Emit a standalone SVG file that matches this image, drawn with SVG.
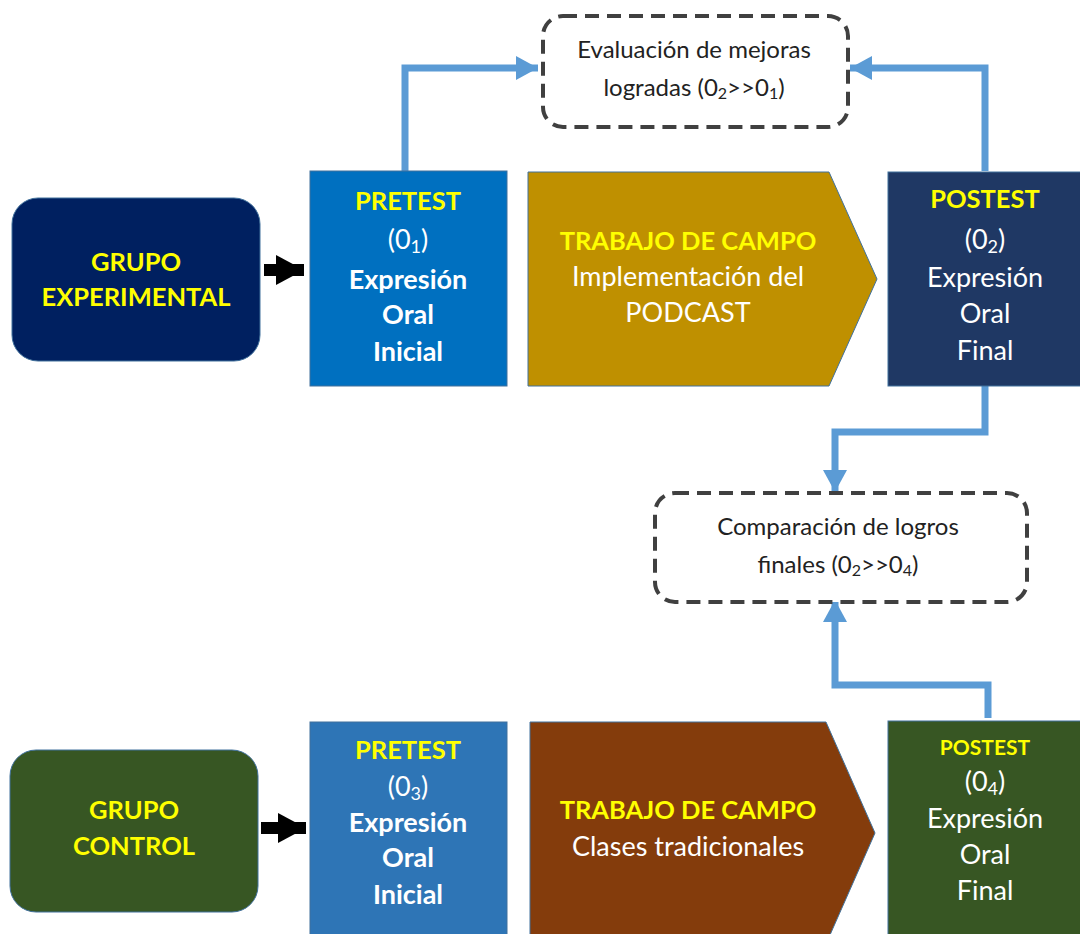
<svg xmlns="http://www.w3.org/2000/svg" width="1080" height="934" viewBox="0 0 1080 934">
<defs>
<marker id="blueHead" markerUnits="userSpaceOnUse" markerWidth="26" markerHeight="26" refX="22" refY="12" orient="auto" viewBox="0 0 26 24">
<path d="M0,0 L22,12 L0,24 Z" fill="#5B9BD5"/>
</marker>
<marker id="blackHead" markerUnits="userSpaceOnUse" markerWidth="30" markerHeight="32" refX="28" refY="15" orient="auto" viewBox="0 0 30 30">
<path d="M0,0 L28,15 L0,30 Z" fill="#000"/>
</marker>
</defs>
<style>
text{font-family:Lato,"Liberation Sans",sans-serif;text-anchor:middle}
.y{fill:#FFFF00;font-weight:bold;font-size:25.5px}
.wb{fill:#FFFFFF;font-weight:bold;font-size:27px}
.w{fill:#FFFFFF;font-size:27px}
.k{fill:#222;font-size:24px}
.box{stroke:#41719C;stroke-width:1}
.dash{fill:#fff;stroke:#404040;stroke-width:4;stroke-dasharray:14 8}
.blue{fill:none;stroke:#5B9BD5;stroke-width:7;marker-end:url(#blueHead)}
.blk{fill:none;stroke:#000;stroke-width:12;marker-end:url(#blackHead)}
</style>
<rect width="1080" height="934" fill="#fff"/>
<g id="connectors">
<path class="blue" d="M405,171 V68 H538"/>
<path class="blue" d="M985,171 V68 H850"/>
<path class="blue" d="M985,386 V432 H835 V492"/>
<path class="blue" d="M988,718 V685 H835 V600"/>
<path class="blk" d="M264,270 H304"/>
<path class="blk" d="M261,828 H306"/>
</g>
<g id="grupo-experimental">
<rect class="box" x="12" y="198" width="248" height="163" rx="26" fill="#002060"/>
<text class="y" x="136" y="271">GRUPO</text>
<text class="y" x="136" y="306">EXPERIMENTAL</text>
</g>
<g id="pretest-1">
<rect class="box" x="310" y="171" width="197" height="215" fill="#0070C0"/>
<text class="y" x="408" y="210">PRETEST</text>
<text class="w" x="408" y="249">(0<tspan font-size="18" dy="4">1</tspan><tspan dy="-4">)</tspan></text>
<text class="wb" x="408" y="289">Expresión</text>
<text class="wb" x="408" y="324">Oral</text>
<text class="wb" x="408" y="361">Inicial</text>
</g>
<g id="trabajo-campo-1">
<path class="box" d="M528,172 H829 L877,279 L829,386 H528 Z" fill="#BF9000"/>
<text class="y" x="688" y="250">TRABAJO DE CAMPO</text>
<text class="w" x="688" y="286">Implementación del</text>
<text class="w" x="688" y="322">PODCAST</text>
</g>
<g id="postest-1">
<rect class="box" x="888" y="172" width="193" height="214" fill="#1F3864"/>
<text class="y" x="985" y="208">POSTEST</text>
<text class="w" x="985" y="249">(0<tspan font-size="18" dy="4">2</tspan><tspan dy="-4">)</tspan></text>
<text class="w" x="985" y="287">Expresión</text>
<text class="w" x="985" y="323">Oral</text>
<text class="w" x="985" y="360">Final</text>
</g>
<g id="evaluacion">
<rect class="dash" x="543" y="16" width="305" height="111" rx="20"/>
<text class="k" x="694" y="58">Evaluación de mejoras</text>
<text class="k" x="694" y="96">logradas (0<tspan font-size="16" dy="3">2</tspan><tspan dy="-3">&gt;&gt;0</tspan><tspan font-size="16" dy="3">1</tspan><tspan dy="-3">)</tspan></text>
</g>
<g id="comparacion">
<rect class="dash" x="655" y="493" width="372" height="109" rx="20"/>
<text class="k" x="838" y="535">Comparación de logros</text>
<text class="k" x="838" y="573">finales (0<tspan font-size="16" dy="3">2</tspan><tspan dy="-3">&gt;&gt;0</tspan><tspan font-size="16" dy="3">4</tspan><tspan dy="-3">)</tspan></text>
</g>
<g id="grupo-control">
<rect class="box" x="10" y="750" width="248" height="162" rx="26" fill="#375623"/>
<text class="y" x="134" y="819">GRUPO</text>
<text class="y" x="134" y="855">CONTROL</text>
</g>
<g id="pretest-2">
<rect class="box" x="310" y="722" width="197" height="220" fill="#2E75B6"/>
<text class="y" x="408" y="759">PRETEST</text>
<text class="w" x="408" y="796">(0<tspan font-size="18" dy="4">3</tspan><tspan dy="-4">)</tspan></text>
<text class="wb" x="408" y="832">Expresión</text>
<text class="wb" x="408" y="867">Oral</text>
<text class="wb" x="408" y="904">Inicial</text>
</g>
<g id="trabajo-campo-2">
<path class="box" d="M530,722 H826 L875,833 L826,944 H530 Z" fill="#843C0C"/>
<text class="y" x="688" y="819">TRABAJO DE CAMPO</text>
<text class="w" x="688" y="856">Clases tradicionales</text>
</g>
<g id="postest-2">
<rect class="box" x="888" y="721" width="193" height="220" fill="#375623"/>
<text class="y" x="985" y="755" style="font-size:21px">POSTEST</text>
<text class="w" x="985" y="791">(0<tspan font-size="18" dy="4">4</tspan><tspan dy="-4">)</tspan></text>
<text class="w" x="985" y="828">Expresión</text>
<text class="w" x="985" y="864">Oral</text>
<text class="w" x="985" y="900">Final</text>
</g>
</svg>
